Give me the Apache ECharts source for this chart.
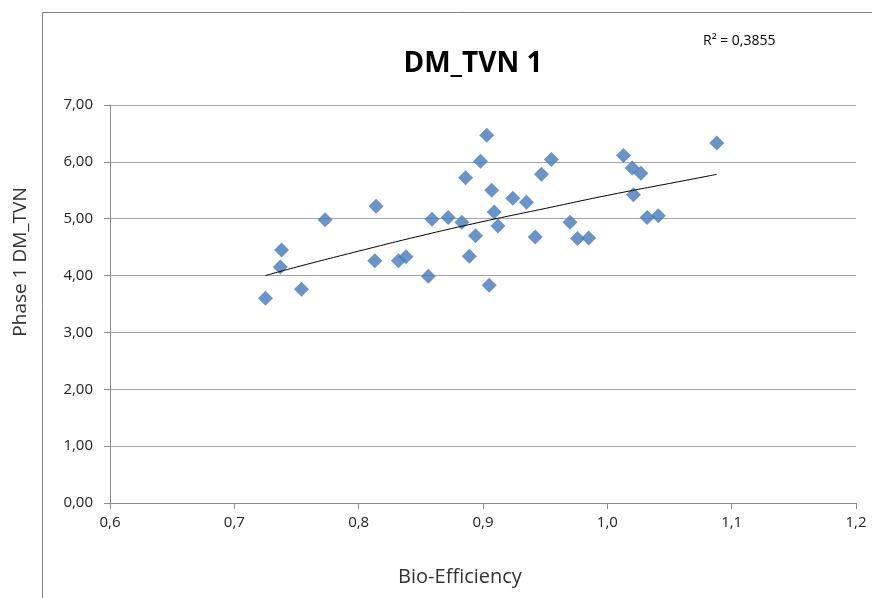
<!DOCTYPE html>
<html>
<head>
<meta charset="utf-8">
<script src="https://cdn.jsdelivr.net/npm/echarts@6/dist/echarts.min.js"></script>
<style>
  html, body { margin: 0; padding: 0; background: #fff; }
  #chart { width: 872px; height: 598px; }
</style>
</head>
<body>
<div id="chart"></div>
<script>
// scatter points: bio-efficiency vs phase 1 DM_TVN
const bioEff = [
  0.725, 0.737, 0.738, 0.754, 0.773, 0.814, 0.813, 0.832, 0.838, 0.856,
  0.859, 0.872, 0.886, 0.883, 0.889, 0.894, 0.898, 0.903, 0.905, 0.907,
  0.909, 0.912, 0.924, 0.935, 0.942, 0.947, 0.955, 0.970, 0.976, 0.985,
  1.013, 1.020, 1.021, 1.027, 1.032, 1.041, 1.088
]
const dmTvn = [
  3.60, 4.15, 4.45, 3.76, 4.98, 5.22, 4.26, 4.26, 4.33, 3.99,
  4.99, 5.02, 5.72, 4.94, 4.34, 4.70, 6.01, 6.47, 3.83, 5.50,
  5.12, 4.87, 5.36, 5.29, 4.68, 5.78, 6.04, 4.94, 4.65, 4.66,
  6.11, 5.89, 5.42, 5.80, 5.02, 5.05, 6.33
]

// logarithmic trend line
const trendX = [0.725, 0.75, 0.8, 0.85, 0.9, 0.95, 1.0, 1.05, 1.088]
const trendY = [4.00, 4.15, 4.43, 4.70, 4.95, 5.18, 5.41, 5.62, 5.78]

const xTicks = { min: 0.6, max: 1.2, step: 0.1 }
const yTicks = { min: 0, max: 7, step: 1 }

const font = '"Open Sans", Lato, sans-serif'
const comma = (v, d) => Number(v).toFixed(d).replace('.', ',')

const chart = echarts.init(document.getElementById('chart'))
chart.setOption({
  animation: false,
  backgroundColor: '#fff',
  title: {
    text: 'DM_TVN 1',
    left: 468,
    top: 45,
    textAlign: 'center',
    textStyle: { fontFamily: font, fontSize: 28, fontWeight: 'bold', color: '#000' }
  },
  graphic: [
    {
      type: 'rect',
      shape: { x: 42.5, y: 12.5, width: 900, height: 700 },
      style: { fill: 'none', stroke: '#7f7f7f', lineWidth: 1 },
      silent: true
    },
    {
      type: 'text',
      left: 703,
      top: 34,
      style: { text: 'R² = 0,3855', fontFamily: font, fontSize: 14, fill: '#000' },
      silent: true
    },
    {
      // axis titles sit a bit off the plot centre in the reference
      type: 'text',
      x: 460,
      y: 577,
      style: {
        text: 'Bio-Efficiency', fontFamily: font, fontSize: 20, fill: '#333',
        align: 'center', verticalAlign: 'middle'
      },
      silent: true
    },
    {
      type: 'text',
      x: 21,
      y: 262,
      rotation: Math.PI / 2,
      style: {
        text: 'Phase 1 DM_TVN', fontFamily: font, fontSize: 19, fill: '#333',
        align: 'center', verticalAlign: 'middle'
      },
      silent: true
    }
  ],
  grid: { left: 110, right: 16, top: 105, bottom: 95 },
  xAxis: {
    type: 'value',
    min: xTicks.min,
    max: xTicks.max,
    interval: xTicks.step,
    axisLine: { show: true, onZero: false, lineStyle: { color: '#8c8c8c' } },
    axisTick: { show: true, length: 6, lineStyle: { color: '#8c8c8c' } },
    axisLabel: {
      fontFamily: font, fontSize: 15, color: '#222', margin: 12,
      formatter: (v) => comma(v, 1)
    },
    splitLine: { show: false }
  },
  yAxis: {
    type: 'value',
    min: yTicks.min,
    max: yTicks.max,
    interval: yTicks.step,
    axisLine: { show: true, lineStyle: { color: '#8c8c8c' } },
    axisTick: { show: true, length: 6, lineStyle: { color: '#8c8c8c' } },
    axisLabel: {
      fontFamily: font, fontSize: 15, color: '#222', margin: 17,
      formatter: (v) => comma(v, 2)
    },
    splitLine: { show: true, lineStyle: { color: '#a6a6a6', width: 1 } }
  },
  series: [
    {
      type: 'scatter',
      symbol: 'diamond',
      symbolSize: 15,
      itemStyle: { color: '#4479bb' },
      data: bioEff.map((x, i) => [x, dmTvn[i]]),
      z: 3
    },
    {
      type: 'line',
      smooth: true,
      showSymbol: false,
      lineStyle: { color: '#000', width: 1 },
      data: trendX.map((x, i) => [x, trendY[i]]),
      z: 4
    }
  ]
})
</script>
</body>
</html>
